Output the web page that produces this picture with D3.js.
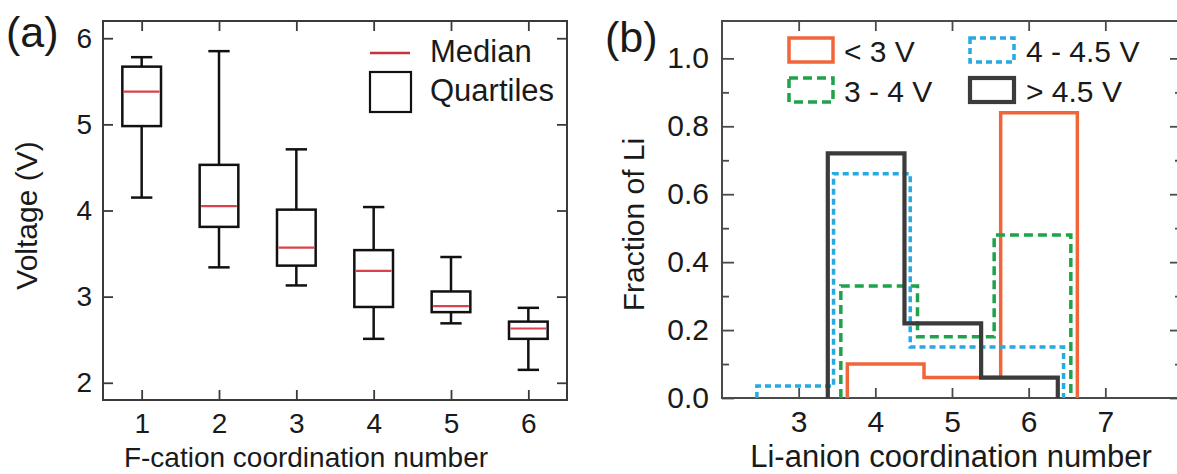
<!DOCTYPE html>
<html>
<head>
<meta charset="utf-8">
<script src="https://d3js.org/d3.v7.min.js"></script>
<style>
  body { margin: 0; background: #fff; }
  svg { display: block; }
  text { font-family: "Liberation Sans", Arial, Helvetica, sans-serif; fill: #1a1a1a; }
</style>
</head>
<body>
<div id="chart"></div>
<script>
// ---- panel (a) data: voltage box plots per F-cation coordination number
var cationCN  = [1, 2, 3, 4, 5, 6];
var whiskLow  = [4.15, 3.34, 3.13, 2.51, 2.69, 2.15];
var q1        = [4.98, 3.81, 3.36, 2.88, 2.82, 2.51];
var median    = [5.38, 4.05, 3.57, 3.30, 2.89, 2.63];
var q3        = [5.67, 4.53, 4.01, 3.54, 3.06, 2.71];
var whiskHigh = [5.78, 5.85, 4.71, 4.04, 3.46, 2.87];
var yTicksA   = [2, 3, 4, 5, 6];

// ---- panel (b) data: fraction of Li per Li-anion coordination number
var anionCN     = [3, 4, 5, 6];
var fracBelow3  = [0, 0.10, 0.06, 0.84];
var frac3to4    = [0, 0.33, 0.18, 0.48];
var frac4to45   = [0.035, 0.66, 0.15, 0.15];
var fracAbove45 = [0, 0.72, 0.22, 0.06];
var seriesNames = ["< 3 V", "3 - 4 V", "4 - 4.5 V", "> 4.5 V"];
var xTicksB     = [3, 4, 5, 6, 7];
var yTicksB     = [0, 0.2, 0.4, 0.6, 0.8, 1.0];
var yMinorB     = [0.1, 0.3, 0.5, 0.7, 0.9];

var W = 1177, H = 474;
var svg = d3.select("#chart").append("svg").attr("width", W).attr("height", H);

var frameColor = "#3a3a3a";

// =================== panel (a) ===================
var a = {left: 103, right: 567, top: 21, bottom: 400};
var xA = d3.scaleLinear().domain([0.5, 6.5]).range([a.left, a.right]);
var yA = d3.scaleLinear().domain([1.8, 6.2]).range([a.bottom, a.top]);
var gA = svg.append("g");

var tickA = 10;
gA.append("g").attr("transform", "translate(0," + a.bottom + ")")
  .call(d3.axisBottom(xA).tickValues(cationCN).tickSizeInner(-tickA).tickSizeOuter(0).tickPadding(13).tickFormat(d3.format("d")));
gA.append("g").attr("transform", "translate(0," + a.top + ")")
  .call(d3.axisTop(xA).tickValues(cationCN).tickSizeInner(-tickA).tickSizeOuter(0).tickFormat(""));
gA.append("g").attr("transform", "translate(" + a.left + ",0)")
  .call(d3.axisLeft(yA).tickValues(yTicksA).tickSizeInner(-tickA).tickSizeOuter(0).tickPadding(11).tickFormat(d3.format("d")));
gA.append("g").attr("transform", "translate(" + a.right + ",0)")
  .call(d3.axisRight(yA).tickValues(yTicksA).tickSizeInner(-tickA).tickSizeOuter(0).tickFormat(""));
gA.selectAll(".domain").remove();
gA.selectAll(".tick line").attr("stroke", frameColor).attr("stroke-width", 1.8);
gA.selectAll(".tick text").attr("font-size", 28).attr("fill", "#1a1a1a");

gA.append("rect")
  .attr("x", a.left).attr("y", a.top)
  .attr("width", a.right - a.left).attr("height", a.bottom - a.top)
  .attr("fill", "none").attr("stroke", frameColor).attr("stroke-width", 2);

var boxHalf = 0.25, capHalf = 0.138;
var boxes = gA.selectAll(".box").data(cationCN).enter().append("g").attr("class", "box");
boxes.append("line")
  .attr("x1", function(d) { return xA(d); }).attr("x2", function(d) { return xA(d); })
  .attr("y1", function(d, i) { return yA(whiskLow[i]); })
  .attr("y2", function(d, i) { return yA(whiskHigh[i]); })
  .attr("stroke", "#111").attr("stroke-width", 2.5);
[whiskLow, whiskHigh].forEach(function(arr) {
  boxes.append("line")
    .attr("x1", function(d) { return xA(d - capHalf); }).attr("x2", function(d) { return xA(d + capHalf); })
    .attr("y1", function(d, i) { return yA(arr[i]); }).attr("y2", function(d, i) { return yA(arr[i]); })
    .attr("stroke", "#111").attr("stroke-width", 2.5);
});
boxes.append("rect")
  .attr("x", function(d) { return xA(d - boxHalf); })
  .attr("width", function(d) { return xA(d + boxHalf) - xA(d - boxHalf); })
  .attr("y", function(d, i) { return yA(q3[i]); })
  .attr("height", function(d, i) { return yA(q1[i]) - yA(q3[i]); })
  .attr("fill", "#fff").attr("stroke", "#111").attr("stroke-width", 2.5);
boxes.append("line")
  .attr("x1", function(d) { return xA(d - boxHalf) + 1.5; }).attr("x2", function(d) { return xA(d + boxHalf) - 1.5; })
  .attr("y1", function(d, i) { return yA(median[i]); }).attr("y2", function(d, i) { return yA(median[i]); })
  .attr("stroke", "#d9424a").attr("stroke-width", 2.2);

// legend (a)
gA.append("line").attr("x1", 370).attr("x2", 410).attr("y1", 53).attr("y2", 53)
  .attr("stroke", "#c8323a").attr("stroke-width", 2.5);
gA.append("rect").attr("x", 370).attr("y", 72).attr("width", 41).attr("height", 40)
  .attr("fill", "none").attr("stroke", "#111").attr("stroke-width", 2.2);
gA.append("text").attr("x", 430).attr("y", 62).attr("font-size", 31).text("Median");
gA.append("text").attr("x", 430).attr("y", 101).attr("font-size", 31).text("Quartiles");

gA.append("text").attr("x", 306).attr("y", 467)
  .attr("text-anchor", "middle").attr("font-size", 28).text("F-cation coordination number");
gA.append("text").attr("transform", "translate(37," + ((a.top + a.bottom) / 2 + 5) + ") rotate(-90)")
  .attr("text-anchor", "middle").attr("font-size", 30).text("Voltage (V)");
gA.append("text").attr("x", 6).attr("y", 47).attr("font-size", 43).text("(a)");

// =================== panel (b) ===================
var b = {left: 722, right: 1182, top: 21, bottom: 398};
var xB = d3.scaleLinear().domain([2, 8]).range([b.left, b.right]);
var yB = d3.scaleLinear().domain([0, 1.11]).range([b.bottom, b.top]);
var gB = svg.append("g");
var frameB = "#4a4a4a";

gB.append("g").attr("transform", "translate(0," + b.bottom + ")")
  .call(d3.axisBottom(xB).tickValues(xTicksB).tickSizeInner(-10).tickSizeOuter(0).tickPadding(13).tickFormat(d3.format("d")));
gB.append("g").attr("transform", "translate(0," + b.top + ")")
  .call(d3.axisTop(xB).tickValues(xTicksB).tickSizeInner(-10).tickSizeOuter(0).tickFormat(""));
gB.append("g").attr("transform", "translate(" + b.left + ",0)")
  .call(d3.axisLeft(yB).tickValues(yTicksB).tickSizeInner(-12).tickSizeOuter(0).tickPadding(13).tickFormat(d3.format(".1f")));
gB.append("g").attr("transform", "translate(" + b.left + ",0)")
  .call(d3.axisLeft(yB).tickValues(yMinorB).tickSizeInner(-7).tickSizeOuter(0).tickFormat(""));
gB.append("g").attr("transform", "translate(" + b.right + ",0)")
  .call(d3.axisRight(yB).tickValues(yTicksB).tickSizeInner(-12).tickSizeOuter(0).tickFormat(""));
gB.append("g").attr("transform", "translate(" + b.right + ",0)")
  .call(d3.axisRight(yB).tickValues(yMinorB).tickSizeInner(-7).tickSizeOuter(0).tickFormat(""));
gB.selectAll(".domain").remove();
gB.selectAll(".tick line").attr("stroke", frameB).attr("stroke-width", 1.8);
gB.selectAll(".tick text").attr("font-size", 30).attr("fill", "#1a1a1a");

gB.append("rect")
  .attr("x", b.left).attr("y", b.top)
  .attr("width", b.right - b.left).attr("height", b.bottom - b.top)
  .attr("fill", "none").attr("stroke", frameB).attr("stroke-width", 2);

var series = [
  {name: seriesNames[0], vals: fracBelow3,  shift: 0.135,  color: "#f0663a", dash: null,  width: 3.5},
  {name: seriesNames[1], vals: frac3to4,    shift: 0.05,   color: "#1ea34a", dash: "9,5", width: 3.5},
  {name: seriesNames[2], vals: frac4to45,   shift: -0.045, color: "#27a9e1", dash: "6,4", width: 3.5},
  {name: seriesNames[3], vals: fracAbove45, shift: -0.12,  color: "#3b3b3b", dash: null,  width: 4.2}
];

function stepPoints(s) {
  var first = s.vals.findIndex(function(v) { return v > 0; });
  var last = s.vals.length - 1;
  while (last > 0 && s.vals[last] <= 0) last--;
  var pts = [];
  pts.push([xB(anionCN[first] - 0.5 + s.shift), yB(0)]);
  for (var i = first; i <= last; i++) {
    var lo = anionCN[i] - 0.5 + s.shift, hi = anionCN[i] + 0.5 + s.shift;
    pts.push([xB(lo), yB(s.vals[i])]);
    pts.push([xB(hi), yB(s.vals[i])]);
  }
  pts.push([xB(anionCN[last] + 0.5 + s.shift), yB(0)]);
  return pts;
}

var line = d3.line();
gB.selectAll(".hist").data(series).enter().append("path")
  .attr("class", "hist")
  .attr("d", function(s) { return line(stepPoints(s)); })
  .attr("fill", "none")
  .attr("stroke", function(s) { return s.color; })
  .attr("stroke-width", function(s) { return s.width; })
  .attr("stroke-dasharray", function(s) { return s.dash; })
  .attr("stroke-linejoin", "miter");

// legend (b): two columns
var legPos = [[789, 38], [789, 78], [970, 38], [970, 78]];
var leg = gB.selectAll(".leg").data(series).enter().append("g")
  .attr("class", "leg")
  .attr("transform", function(s, i) { return "translate(" + legPos[i][0] + "," + legPos[i][1] + ")"; });
leg.append("rect").attr("width", 44).attr("height", 24)
  .attr("fill", "none")
  .attr("stroke", function(s) { return s.color; })
  .attr("stroke-width", function(s) { return s.width; })
  .attr("stroke-dasharray", function(s) { return s.dash; });
leg.append("text").attr("x", function(s, i) { return i < 2 ? 55 : 56; }).attr("y", 24)
  .attr("font-size", 30).text(function(s) { return s.name; });

gB.append("text").attr("x", 951).attr("y", 467)
  .attr("text-anchor", "middle").attr("font-size", 31).text("Li-anion coordination number");
gB.append("text").attr("transform", "translate(644," + ((b.top + b.bottom) / 2 + 15) + ") rotate(-90)")
  .attr("text-anchor", "middle").attr("font-size", 30).text("Fraction of Li");
gB.append("text").attr("x", 605).attr("y", 52).attr("font-size", 43).text("(b)");
</script>
</body>
</html>
